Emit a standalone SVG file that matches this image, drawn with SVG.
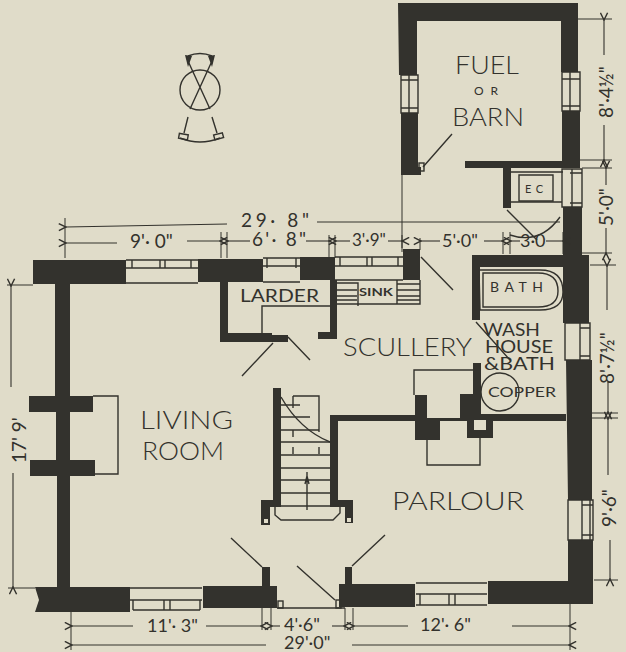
<svg xmlns="http://www.w3.org/2000/svg" width="626" height="652" viewBox="0 0 626 652">
<defs>
<marker id="a" viewBox="0 0 10 10" refX="1" refY="5" markerWidth="9" markerHeight="9" markerUnits="userSpaceOnUse" orient="auto-start-reverse"><path d="M9 1L1 5L9 9" fill="none" stroke="#33322d" stroke-width="1.6"/></marker>
</defs>
<style>
.wall{fill:#33322d;stroke:none}
.t{stroke:#33322d;stroke-width:1.4;fill:none}
.d{stroke:#33322d;stroke-width:1.1;fill:none;marker-start:url(#a);marker-end:url(#a)}
.s{stroke:#33322d;stroke-width:1.1;fill:none;marker-start:url(#a)}
.x{stroke:#33322d;stroke-width:1.1;fill:none;marker-end:url(#a)}
.e{stroke:#33322d;stroke-width:1;fill:none}
text{font-family:"Lato","Liberation Sans",sans-serif;fill:#33322d}
.r{font-size:26px;font-weight:300}
.b{font-weight:700}
.n{font-size:19px;font-weight:400}
</style>
<rect width="626" height="652" fill="#e0dcc9"/>

<g id="compass" class="t">
<circle cx="200" cy="90" r="20"/>
<path d="M188 61L210 109M212 61L190 109"/>
<path d="M188 56Q200 51 212 56"/>
<path class="wall" d="M185 55L192 56L188 67ZM215 55L208 56L212 67Z"/>
<path d="M188 117L184 133M212 117L217 133M180 138Q200 146 220 138"/>
<rect x="179" y="134" width="9" height="5" transform="rotate(10 183 136)"/>
<rect x="214" y="134" width="9" height="5" transform="rotate(-15 218 136)"/>
</g>

<g id="walls">
<path class="wall" d="M398 3H578V72H561V21H417V75H399ZM401 113H418V167H421V175H401ZM562 111H580V168H562ZM563 207H582V255H589V323H563V255H563ZM566 360H592V500H568ZM568 540H593V604H488V581H568ZM465 161H562V168H511V208H503V168H465Z"/>
<path class="wall" d="M33 260H126V284H70V396H93V412H70V460H95V476H70V587H130V612H35L39 600L35 587H57V476H30V460H56V412H29V396H55V284H33Z"/>
<path class="wall" d="M203 586H277V608H203ZM262 567H270V586H262ZM339 584H345V567H352V584H415V607H339Z"/>
<path class="wall" d="M198 259H263V282H228V333H272V335H288V342H220V282H198ZM300 257H335V280H337V339H318V332H330V280H300ZM403 249H420V280H403ZM472 255H563V267H480V320H472Z"/>
<path class="wall" d="M273 388H281V507H270V525H261V500H273ZM330 415H415V395H427V418H460V394H473V363H481V414H566V421H493V438H467V421H440V440H415V421H338V500H353V523H345V507H330Z"/>
<rect x="474" y="420" width="12" height="10" fill="#e0dcc9"/>
<rect x="264" y="519" width="4" height="4" fill="#e0dcc9"/>
<rect x="347" y="518" width="4" height="4" fill="#e0dcc9"/>
</g>

<g id="windows" class="t">
<path d="M126 260H198M126 268H198M132 260V268M160 260V268M165 260V268M191 260V268M126 283H198"/>
<path d="M263 258H300M263 266H300M267 258V268M296 258V268M263 282H300"/>
<path d="M335 257H403M335 266H403M340 257V266M367 257V266M372 257V266M398 257V266M335 280H403"/>
<path d="M130 588H202M130 600H202M133 600V610M164 600V610M170 600V610M200 600V610M133 610H200"/>
<path d="M416 583H487M416 594H487M416 605H487M420 594V605M449 594V605M455 594V605"/>
<path d="M401 75H418V113H401ZM401 80H418M401 108H418M409 75V113"/>
<path d="M562 72H580V111H562ZM562 79H580M562 106H580M570 72V111"/>
<path d="M562 169H582V207H562ZM572 169V207M570 173H582M570 203H582"/>
<path d="M565 323H590V360H565ZM580 323V360M580 328H590M580 356H590"/>
<path d="M568 500H593V540H568ZM582 500V540M590 500V540M582 505H593M582 535H593"/>
</g>

<g id="fixtures" class="t">
<path d="M93 396H118V474H95"/>
<path d="M262 333V306H330"/>
<path d="M336 283H358V304H336M336 290H357M336 296H357M336 300H357M358 283V306M358 304H420V280M397 280V304M397 284H420M397 290H420M397 296H420M397 300H420"/>
<path d="M479 270H540Q563 270 563 292Q563 310 540 310H480ZM483 273V307H538Q558 307 558 291Q558 273 538 273Z"/>
<circle cx="500" cy="392" r="19"/>
<path d="M414 395V370H473M427 440V465H480V438"/>
<path d="M519 175H553V201H519Z"/>
<path d="M510 172H563M511 202H562"/>
</g>

<g id="stairs" class="t">
<path d="M281 405H300M281 417H310M281 430H319M281 442H331M281 455H331M281 468H331M281 480H331M281 493H331M281 506H331"/>
<path d="M281 397Q300 430 330 442"/>
<path d="M293 396H319V432M293 396V408M293 430V437M293 447V454M319 447V454"/>
<path d="M307 472V510M305 484L307 476L309 484"/>
<path d="M275 507V515L281 520H333L340 513V507"/>
</g>

<g id="doors" class="t">
<path d="M423 167L452 134M421 257L453 290M273 343L242 376M288 337L310 360M476 322L510 360M507 210L537 240M231 538L262 567M385 535L352 566M297 566L335 600M277 608H345"/>
<rect x="419" y="163" width="5" height="8"/>
<rect x="336" y="600" width="5" height="8"/>
<rect x="278" y="601" width="5" height="7"/>
<path d="M510 235Q540 245 560 217"/>
</g>

<g id="dimensions">
<path class="e" d="M402 175V248M420 238V250M65 218V258M221 232V258M227 232V258M329 235V258M335 235V258M402 235V252M510 232V254M503 232V254M563 232V254"/>
<path class="e" d="M578 19H612M580 160H612M582 168H612M582 253H612M590 265H616M592 413H618M592 418H618M594 580H618M7 285H33M8 588H35M71 612V650M262 608V630M271 608V630M345 608V630M353 608V630M570 604V650"/>
<path class="s" d="M66 227L227 224"/>
<path class="e" d="M317 222H560"/>
<path class="s" d="M66 243H117"/>
<path class="x" d="M187 241H220"/>
<path class="s" d="M228 241H250"/>
<path class="x" d="M306 241H329"/>
<path class="s" d="M336 241H350"/>
<path class="x" d="M388 241H402"/>
<path class="s" d="M421 241H440"/>
<path class="x" d="M484 241H502"/>
<path class="s" d="M511 241H520"/>
<path class="x" d="M546 241H563"/>
<path class="s" d="M604 20V55"/><path class="x" d="M604 125V160"/>
<path class="s" d="M606 168V185"/><path class="x" d="M606 228V253"/>
<path class="s" d="M607 266V310"/><path class="x" d="M608 382V412"/>
<path class="s" d="M608 419V475"/><path class="x" d="M610 540V579"/>
<path class="s" d="M11 286V387"/><path class="x" d="M13 473V587"/>
<path class="s" d="M72 626H133"/><path class="x" d="M206 626H261"/>
<path class="s" d="M272 626H280"/><path class="x" d="M332 626H344"/>
<path class="s" d="M354 626H408"/><path class="x" d="M512 626H569"/>
<path class="s" d="M72 645H266"/><path class="x" d="M352 645H569"/>
<text class="n" x="241" y="227" textLength="68" lengthAdjust="spacing">29· 8"</text>
<text class="n" x="130" y="248">9'· 0"</text>
<text class="n" x="252" y="246" textLength="54" lengthAdjust="spacing">6'· 8"</text>
<text class="n" x="352" y="246" font-size="17" style="font-size:17px">3'·9"</text>
<text class="n" x="442" y="247" style="font-size:18px">5'·0"</text>
<text class="n" x="520" y="247" style="font-size:18px">3·0</text>
<text class="n" transform="translate(613 118) rotate(-90)">8'·4½"</text>
<text class="n" transform="translate(613 226) rotate(-90)">5'·0"</text>
<text class="n" transform="translate(614 384) rotate(-90)">8'·7½"</text>
<text class="n" transform="translate(616 527) rotate(-90)">9'·6"</text>
<text class="n" transform="translate(26 463) rotate(-90)">17' 9'</text>
<text class="n" x="147" y="632" style="font-size:18px">11'· 3"</text>
<text class="n" x="284" y="631" style="font-size:18px">4'·6"</text>
<text class="n" x="420" y="631" style="font-size:18px">12'· 6"</text>
<text class="n" x="284" y="649" style="font-size:18px">29'·0"</text>
</g>

<g id="labels">
<text class="r" x="455" y="74" textLength="64" lengthAdjust="spacingAndGlyphs">FUEL</text>
<text x="474" y="95" font-size="12" textLength="24">OR</text>
<text class="r" x="452" y="126" textLength="72" lengthAdjust="spacingAndGlyphs">BARN</text>
<text class="r" x="140" y="429" textLength="93" lengthAdjust="spacingAndGlyphs">LIVING</text>
<text class="r" x="142" y="460" textLength="82" lengthAdjust="spacingAndGlyphs">ROOM</text>
<text class="r" x="343" y="356" textLength="129" lengthAdjust="spacingAndGlyphs">SCULLERY</text>
<text class="r" x="392" y="510" textLength="132" lengthAdjust="spacingAndGlyphs">PARLOUR</text>
<text x="240" y="302" font-size="17" textLength="79" lengthAdjust="spacingAndGlyphs">LARDER</text>
<text class="b" x="359" y="296" font-size="12" textLength="34" lengthAdjust="spacingAndGlyphs">SINK</text>
<text x="490" y="292" font-size="14" textLength="53" lengthAdjust="spacing">BATH</text>
<text x="483" y="336" font-size="17.5" textLength="57" lengthAdjust="spacingAndGlyphs">WASH</text>
<text x="485" y="353" font-size="17.5" textLength="68" lengthAdjust="spacingAndGlyphs">HOUSE</text>
<text x="484" y="370" font-size="17.5" textLength="71" lengthAdjust="spacingAndGlyphs">&amp;BATH</text>
<text x="488" y="397" font-size="14" textLength="68" lengthAdjust="spacingAndGlyphs">COPPER</text>
<text x="525" y="193" font-size="11" textLength="18">EC</text>
</g>
</svg>
